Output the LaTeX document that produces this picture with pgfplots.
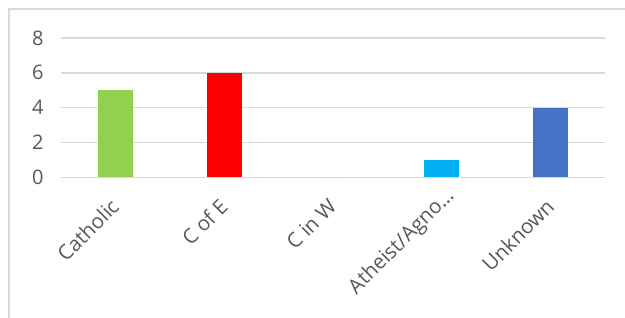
\documentclass[border=0pt]{standalone}
\usepackage{pgfplots}
\pgfplotsset{compat=1.18}
\usepackage{fontspec}
\setmainfont{Open Sans}
\definecolor{gridc}{HTML}{D9D9D9}
\definecolor{txt}{HTML}{595959}
\definecolor{cgreen}{HTML}{92D050}
\definecolor{cred}{HTML}{FF0000}
\definecolor{cgray}{HTML}{A5A5A5}
\definecolor{ccyan}{HTML}{00B0F0}
\definecolor{cblue}{HTML}{4472C4}
\begin{document}
\begin{tikzpicture}
\useasboundingbox (0,0) rectangle (625bp,318bp);
\fill[white] (0,0) rectangle (625bp,318bp);
\draw[gridc, line width=1.4bp] (9bp,0) -- (9bp,309bp) -- (625bp,309bp);
\begin{axis}[
  at={(61bp,140.7bp)}, anchor=south west,
  scale only axis, width=544bp, height=139.3bp,
  xmin=-0.5, xmax=4.5, ymin=0, ymax=8,
  ytick={0,2,4,6,8},
  xtick={0,1,2,3,4},
  xticklabels={Catholic, C of E, C in W, {Atheist/Agno…\hspace*{-14bp}}, Unknown},
  axis line style={draw=none},
  major tick length=0pt,
  ymajorgrids, grid style={gridc, line width=1.4bp},
  ybar, bar width=35bp, bar shift=0pt,
  ticklabel style={font=\fontsize{20bp}{24bp}\selectfont, text=txt},
  yticklabel style={xshift=-14bp},
  xticklabel style={font=\fontsize{20.5bp}{24bp}\selectfont, yshift=-23bp, xshift=2bp, rotate=45, anchor=east},
  /pgf/number format/assume math mode=true,
  clip=false,
]
\addplot[fill=cgreen, draw=none] coordinates {(0,5)};
\addplot[fill=cred, draw=none] coordinates {(1,6)};
\addplot[fill=cgray, draw=none] coordinates {(2,0)};
\addplot[fill=ccyan, draw=none] coordinates {(3,1)};
\addplot[fill=cblue, draw=none] coordinates {(4,4)};
\end{axis}
\end{tikzpicture}
\end{document}
